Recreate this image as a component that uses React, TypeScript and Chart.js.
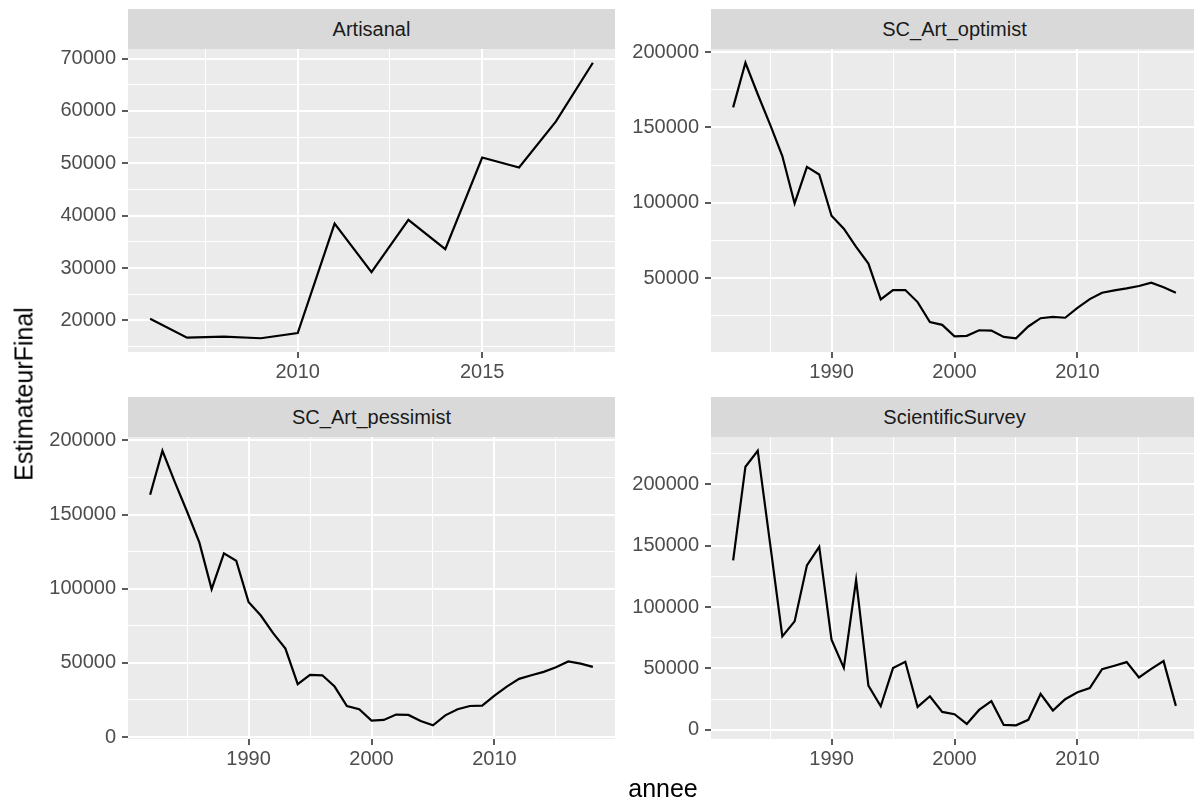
import React, { useEffect, useRef } from "react";
import { Chart, registerables } from "chart.js";

Chart.register(...registerables);

// ---------------- data ----------------
const panelTitles = ["Artisanal", "SC_Art_optimist", "SC_Art_pessimist", "ScientificSurvey"];

const artisanalYears = [2006, 2007, 2008, 2009, 2010, 2011, 2012, 2013, 2014, 2015, 2016, 2017, 2018];
const artisanalValues = [20300, 16700, 16900, 16600, 17600, 38500, 29200, 39200, 33600, 51100, 49200, 58000, 69200];

const longYears = [
  1982, 1983, 1984, 1985, 1986, 1987, 1988, 1989, 1990, 1991, 1992, 1993,
  1994, 1995, 1996, 1997, 1998, 1999, 2000, 2001, 2002, 2003, 2004, 2005,
  2006, 2007, 2008, 2009, 2010, 2011, 2012, 2013, 2014, 2015, 2016, 2017, 2018,
];
const optimistValues = [
  163300, 192900, 172000, 152000, 131000, 99500, 123800, 118700, 91300, 82700, 70700, 59600,
  35800, 42000, 42000, 34000, 20700, 18900, 11300, 11600, 15300, 15100, 10900, 10000,
  17800, 23300, 24200, 23600, 30200, 36000, 40200, 41800, 43100, 44700, 46900, 43800, 40200,
];
const pessimistValues = [
  163300, 193000, 172000, 152000, 131200, 99700, 123800, 118800, 91100, 81900, 70000, 59600,
  35600, 41900, 41600, 34000, 20900, 18700, 11000, 11500, 15100, 14900, 10800, 7900,
  14600, 18700, 20900, 21200, 27900, 34000, 39200, 41600, 43900, 47000, 50900, 49500, 47300,
];
const surveyValues = [
  138000, 214100, 227100, 152000, 76100, 88300, 133900, 148900, 73400, 50500, 122000, 36100,
  19300, 50300, 55400, 18700, 27400, 14700, 12800, 4900, 16300, 23400, 4100, 3800,
  8200, 29300, 15800, 25000, 30700, 34000, 49400, 52200, 55200, 42700, 49700, 56000, 19600,
];

const artisanalXTicks = [2010, 2015];
const longXTicks = [1990, 2000, 2010];
const artisanalYTicks = [20000, 30000, 40000, 50000, 60000, 70000];
const optimistYTicks = [50000, 100000, 150000, 200000];
const pessimistYTicks = [0, 50000, 100000, 150000, 200000];
const surveyYTicks = [0, 50000, 100000, 150000, 200000];

const xTitle = "annee";
const yTitle = "EstimateurFinal";

// ---------------- layout ----------------
const FONT = "'Liberation Sans', Arial, Helvetica, sans-serif";
const COL_LEFT = [128, 711];
const PANEL_W = 487;
const ROWS = [
  { strip: 9, top: 49, bottom: 352 },
  { strip: 397, top: 437, bottom: 739 },
];
const YW = 110; // y axis width
const XH = 40; // x axis height
const PT = 22; // padding above panel
const PR = 22; // padding right of panel

type Spec = {
  title: string;
  years: number[];
  values: number[];
  xTicks: number[];
  yTicks: number[];
  col: number;
  row: number;
};

const specs: Spec[] = [
  { title: panelTitles[0], years: artisanalYears, values: artisanalValues, xTicks: artisanalXTicks, yTicks: artisanalYTicks, col: 0, row: 0 },
  { title: panelTitles[1], years: longYears, values: optimistValues, xTicks: longXTicks, yTicks: optimistYTicks, col: 1, row: 0 },
  { title: panelTitles[2], years: longYears, values: pessimistValues, xTicks: longXTicks, yTicks: pessimistYTicks, col: 0, row: 1 },
  { title: panelTitles[3], years: longYears, values: surveyValues, xTicks: longXTicks, yTicks: surveyYTicks, col: 1, row: 1 },
];

function expand(arr: number[]): [number, number] {
  const lo = Math.min(...arr);
  const hi = Math.max(...arr);
  const r = hi - lo;
  return [lo - r * 0.05, hi + r * 0.05];
}

function withMinor(majors: number[], lo: number, hi: number): number[] {
  const step = majors[1] - majors[0];
  const all: number[] = [majors[0] - step / 2];
  majors.forEach((m) => {
    all.push(m);
    all.push(m + step / 2);
  });
  return all.filter((v) => v >= lo && v <= hi);
}

const bgPlugin = {
  id: "panelBg",
  beforeDraw(chart: any) {
    const { ctx, chartArea: a } = chart;
    ctx.save();
    ctx.fillStyle = "#EBEBEB";
    ctx.fillRect(a.left, a.top, a.right - a.left, a.bottom - a.top);
    ctx.restore();
  },
};

function axisOpts(majors: number[], lo: number, hi: number, isX: boolean) {
  const set = new Set(majors);
  const all = withMinor(majors, lo, hi);
  const isMajor = (ctx: any) => ctx && ctx.tick && set.has(ctx.tick.value);
  return {
    type: "linear",
    min: lo,
    max: hi,
    afterBuildTicks: (s: any) => {
      s.ticks = all.map((v) => ({ value: v }));
    },
    afterFit: (s: any) => {
      if (isX) s.height = XH;
      else s.width = YW;
    },
    border: { display: false },
    grid: {
      color: "#FFFFFF",
      lineWidth: (ctx: any) => (isMajor(ctx) ? 2 : 1),
      drawTicks: true,
      tickLength: 6,
      tickWidth: 1.6,
      tickColor: (ctx: any) => (isMajor(ctx) ? "#333333" : "rgba(0,0,0,0)"),
    },
    ticks: {
      autoSkip: false,
      maxRotation: 0,
      minRotation: 0,
      padding: isX ? 2 : 6,
      color: "#4D4D4D",
      font: { family: FONT, size: 20 },
      callback: (v: any) => (set.has(Number(v)) ? String(v) : ""),
    },
  };
}

function Panel({ spec }: { spec: Spec }) {
  const ref = useRef<HTMLCanvasElement>(null);
  const row = ROWS[spec.row];
  const panelH = row.bottom - row.top;
  const left = COL_LEFT[spec.col] - YW;
  const top = row.top - PT;
  const width = YW + PANEL_W + PR;
  const height = PT + panelH + XH;

  useEffect(() => {
    if (!ref.current) return;
    const [xlo, xhi] = expand(spec.years);
    const [ylo, yhi] = expand(spec.values);
    const chart = new Chart(ref.current, {
      type: "line",
      data: {
        datasets: [
          {
            data: spec.years.map((x, i) => ({ x, y: spec.values[i] })),
            borderColor: "#000000",
            borderWidth: 2.2,
            pointRadius: 0,
            tension: 0,
            fill: false,
          },
        ],
      },
      options: {
        animation: false,
        responsive: false,
        maintainAspectRatio: false,
        devicePixelRatio: 1,
        layout: { padding: { top: PT, right: PR, left: 0, bottom: 0 } },
        plugins: { legend: { display: false }, tooltip: { enabled: false } },
        scales: {
          x: axisOpts(spec.xTicks, xlo, xhi, true) as any,
          y: axisOpts(spec.yTicks, ylo, yhi, false) as any,
        },
      },
      plugins: [bgPlugin],
    });
    return () => chart.destroy();
  }, []);

  return (
    <canvas
      ref={ref}
      width={width}
      height={height}
      style={{ position: "absolute", left, top, width, height }}
    />
  );
}

export default function App() {
  return (
    <div
      style={{
        position: "absolute",
        left: 0,
        top: 0,
        width: 1194,
        height: 803,
        overflow: "hidden",
        background: "#FFFFFF",
        fontFamily: FONT,
      }}
    >
      {specs.map((s) => (
        <div
          key={"strip-" + s.title}
          style={{
            position: "absolute",
            left: COL_LEFT[s.col],
            top: ROWS[s.row].strip,
            width: PANEL_W,
            height: ROWS[s.row].top - ROWS[s.row].strip,
            background: "#D9D9D9",
            color: "#1A1A1A",
            fontSize: 20,
            lineHeight: ROWS[s.row].top - ROWS[s.row].strip + "px",
            textAlign: "center",
            whiteSpace: "nowrap",
          }}
        >
          {s.title}
        </div>
      ))}
      {specs.map((s) => (
        <Panel key={s.title} spec={s} />
      ))}
      <div
        style={{
          position: "absolute",
          left: 24,
          top: 394,
          transform: "translate(-50%, -50%) rotate(-90deg)",
          fontSize: 25,
          lineHeight: "25px",
          color: "#000000",
          whiteSpace: "nowrap",
        }}
      >
        {yTitle}
      </div>
      <div
        style={{
          position: "absolute",
          left: 663,
          top: 776,
          transform: "translateX(-50%)",
          fontSize: 25,
          lineHeight: "25px",
          color: "#000000",
          whiteSpace: "nowrap",
        }}
      >
        {xTitle}
      </div>
    </div>
  );
}
